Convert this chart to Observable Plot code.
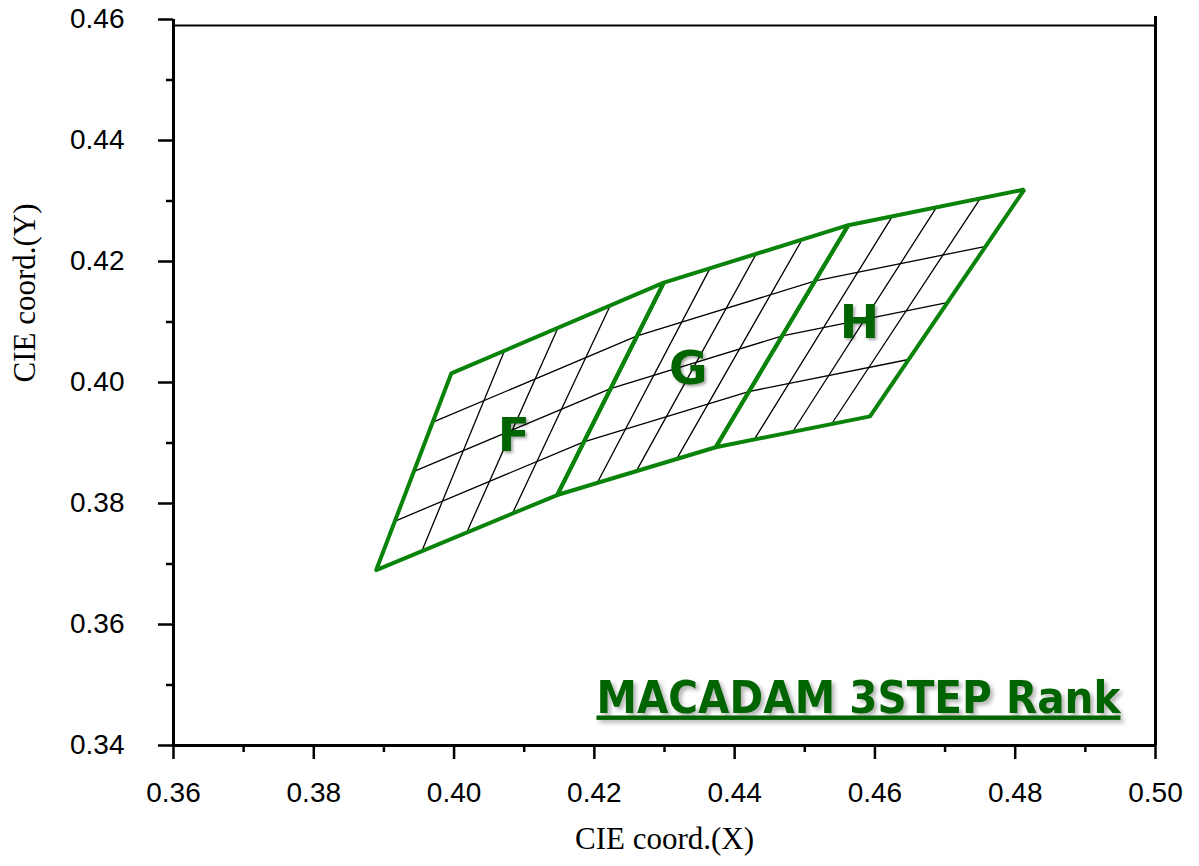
<!DOCTYPE html>
<html>
<head>
<meta charset="utf-8">
<script src="https://cdn.jsdelivr.net/npm/d3@7"></script>
<script src="https://cdn.jsdelivr.net/npm/@observablehq/plot@0.6"></script>
<style>
  html, body { margin: 0; padding: 0; background: #fff; }
  #chart svg { display: block; }
</style>
</head>
<body>
<div id="chart"></div>
<script>
// Chromaticity quadrangles for ranks F, G, H
// corners: bottom-left, top-left, top-right, bottom-right (CIE x, y)
const rankNames = ["F", "G", "H"];
const quadF = [[0.3889, 0.3690], [0.3996, 0.4015], [0.4299, 0.4165], [0.4147, 0.3814]];
const quadG = [[0.4147, 0.3814], [0.4299, 0.4165], [0.4562, 0.4260], [0.4373, 0.3893]];
const quadH = [[0.4373, 0.3893], [0.4562, 0.4260], [0.4813, 0.4319], [0.4593, 0.3944]];

// 3-step sub-bin lines running along the quadrangles (left edge -> right edge)
const rowLine1 = [[0.3916, 0.3771], [0.4185, 0.3902], [0.4420, 0.3985], [0.4648, 0.4038]];
const rowLine2 = [[0.3943, 0.3853], [0.4223, 0.3990], [0.4468, 0.4077], [0.4703, 0.4132]];
const rowLine3 = [[0.3969, 0.3934], [0.4261, 0.4077], [0.4515, 0.4168], [0.4758, 0.4225]];

// sub-bin lines running across the quadrangles (bottom edge -> top edge)
const colBottom = [[0.3954, 0.3721], [0.4018, 0.3752], [0.4083, 0.3783],
                   [0.4204, 0.3834], [0.4260, 0.3854], [0.4317, 0.3873],
                   [0.4428, 0.3906], [0.4483, 0.3919], [0.4538, 0.3931]];
const colTop    = [[0.4072, 0.4053], [0.4148, 0.4090], [0.4223, 0.4128],
                   [0.4365, 0.4189], [0.4431, 0.4213], [0.4496, 0.4236],
                   [0.4625, 0.4275], [0.4688, 0.4290], [0.4750, 0.4304]];

// rank label positions
const labelX = [0.4085, 0.4334, 0.4578];
const labelY = [0.3912, 0.4023, 0.4099];

// axis ticks
const xMajor = [0.36, 0.38, 0.40, 0.42, 0.44, 0.46, 0.48, 0.50];
const xMinor = [0.37, 0.39, 0.41, 0.43, 0.45, 0.47, 0.49];
const yMajor = [0.34, 0.36, 0.38, 0.40, 0.42, 0.44, 0.46];
const yMinor = [0.35, 0.37, 0.39, 0.41, 0.43, 0.45];

const titleText = "MACADAM 3STEP Rank";

// ---- tables built from the arrays above ----
const quads = [quadF, quadG, quadH];
const outline = quads.flatMap((q, i) =>
  [...q, q[0]].map(([x, y]) => ({rank: rankNames[i], x, y})));
const rows = [rowLine1, rowLine2, rowLine3].flatMap((line, i) =>
  line.map(([x, y]) => ({id: "row" + i, x, y})));
const cols = colBottom.flatMap((b, i) => [
  {id: "col" + i, x: b[0], y: b[1]},
  {id: "col" + i, x: colTop[i][0], y: colTop[i][1]}
]);
const labels = rankNames.map((name, i) => ({name, x: labelX[i], y: labelY[i]}));

const green = "#0a830a";
const darkGreen = "#006400";
const fmt = d3.format(".2f");

const chart = Plot.plot({
  width: 1199,
  height: 866,
  marginLeft: 173,
  marginRight: 44,
  marginTop: 19,
  marginBottom: 121,
  style: {fontFamily: "'Liberation Sans', Arial, sans-serif", color: "#000", background: "#fff"},
  x: {domain: [0.36, 0.50]},
  y: {domain: [0.34, 0.46]},
  marks: [
    // sub-bin grid
    Plot.line(rows, {x: "x", y: "y", z: "id", stroke: "#000", strokeWidth: 1.3}),
    Plot.line(cols, {x: "x", y: "y", z: "id", stroke: "#000", strokeWidth: 1.3}),
    // rank outlines
    Plot.line(outline, {x: "x", y: "y", z: "rank", stroke: green, strokeWidth: 4, strokeLinejoin: "miter"}),
    // rank letters
    Plot.text(labels, {
      x: "x", y: "y", text: "name", fontSize: 47, fontWeight: "bold",
      fontFamily: "'DejaVu Sans', Verdana, sans-serif", fill: darkGreen
    }),
    // title inside the plot
    Plot.text([titleText], {
      frameAnchor: "bottom-right", text: d => d, textAnchor: "end", lineAnchor: "bottom",
      dx: -35, dy: -33, fontSize: 44, fontWeight: "bold",
      fontFamily: "'DejaVu Sans', Verdana, sans-serif", fill: darkGreen
    }),
    // frame
    Plot.ruleY([0.459], {stroke: "#000", strokeWidth: 2}),
    Plot.ruleX([0.50], {y1: 0.34, y2: 0.4605, stroke: "#000", strokeWidth: 3}),
    Plot.ruleX([0.36], {stroke: "#000", strokeWidth: 3}),
    Plot.ruleY([0.34], {stroke: "#000", strokeWidth: 3}),
    // axes
    Plot.axisX(xMinor, {tickSize: 7, tickFormat: () => "", strokeWidth: 2.5, label: null}),
    Plot.axisX(xMajor, {tickSize: 14, tickPadding: 23, tickFormat: fmt, fontSize: 28, strokeWidth: 2.5, label: null}),
    Plot.axisY(yMinor, {tickSize: 7, tickFormat: () => "", strokeWidth: 2.5, label: null}),
    Plot.axisY(yMajor, {tickSize: 15, tickPadding: 34, tickFormat: fmt, fontSize: 28, strokeWidth: 2.5, label: null}),
    // axis titles
    Plot.text(["CIE coord.(X)"], {
      frameAnchor: "bottom", text: d => d, dy: 103, fontSize: 31,
      fontFamily: "'Liberation Serif', 'Times New Roman', serif", fill: "#000"
    }),
    Plot.text(["CIE coord.(Y)"], {
      frameAnchor: "left", text: d => d, dx: -148, rotate: -90, fontSize: 31,
      fontFamily: "'Liberation Serif', 'Times New Roman', serif", fill: "#000"
    })
  ]
});

document.getElementById("chart").appendChild(chart);

// soft shadows on the rank letters and the title; fit title width and underline it
const svg = d3.select(chart);
svg.selectAll("text")
  .filter(function () { return rankNames.includes(this.textContent); })
  .style("filter", "drop-shadow(2px 2px 1.5px rgba(0,0,0,0.35))");
svg.selectAll("text")
  .filter(function () { return this.textContent === titleText; })
  .attr("textLength", 524)
  .attr("lengthAdjust", "spacingAndGlyphs")
  .style("text-decoration", "underline")
  .style("filter", "drop-shadow(3px 3px 2px rgba(0,0,0,0.3))");
</script>
</body>
</html>
